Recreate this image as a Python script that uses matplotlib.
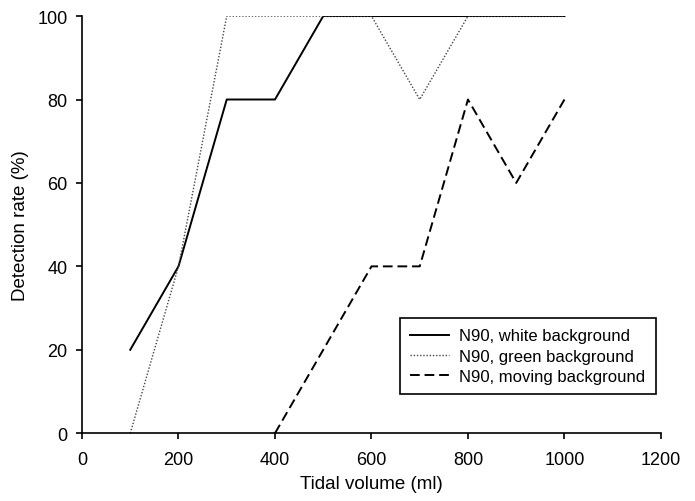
import matplotlib.pyplot as plt

volume = [100, 200, 300, 400, 500, 600, 700, 800, 900, 1000]
white_bg = [20, 40, 80, 80, 100, 100, 100, 100, 100, 100]
green_bg = [0, 40, 100, 100, 100, 100, 80, 100, 100, 100]
moving_volume = [400, 500, 600, 700, 800, 900, 1000]
moving_bg = [0, 20, 40, 40, 80, 60, 80]

plt.rcParams['font.family'] = ['Liberation Sans', 'DejaVu Sans']

fig = plt.figure(figsize=(6.95, 5.02), dpi=100)
ax = fig.add_axes([0.118, 0.135, 0.833, 0.831])

ax.plot(volume, white_bg, color='black', lw=1.4, ls='-', label='N90, white background')
ax.plot(volume, green_bg, color='#444444', lw=1.0, ls=(0, (1, 1.3)), label='N90, green background')
ax.plot(moving_volume, moving_bg, color='black', lw=1.4, ls=(0, (5, 2.5)), label='N90, moving background')

ax.set_xlim(0, 1200)
ax.set_ylim(0, 100)
ax.set_xticks(range(0, 1201, 200))
ax.set_yticks(range(0, 101, 20))
ax.spines['top'].set_visible(False)
ax.spines['right'].set_visible(False)
for s in ['left', 'bottom']:
    ax.spines[s].set_linewidth(1.2)
ax.tick_params(direction='out', length=4.5, width=1.2, labelsize=13)
ax.tick_params(axis='x', pad=8)
ax.tick_params(axis='y', pad=6)
ax.set_xlabel('Tidal volume (ml)', fontsize=13.5, labelpad=5)
ax.set_ylabel('Detection rate (%)', fontsize=13.5, labelpad=6)

leg = ax.legend(loc='lower right', bbox_to_anchor=(1.005, 0.073), fontsize=12,
                frameon=True, fancybox=False, edgecolor='black', framealpha=1,
                handlelength=2.35, handletextpad=0.6, borderpad=0.62, labelspacing=0.32)
leg.get_frame().set_linewidth(1.2)

fig.savefig('out.png', dpi=100)
